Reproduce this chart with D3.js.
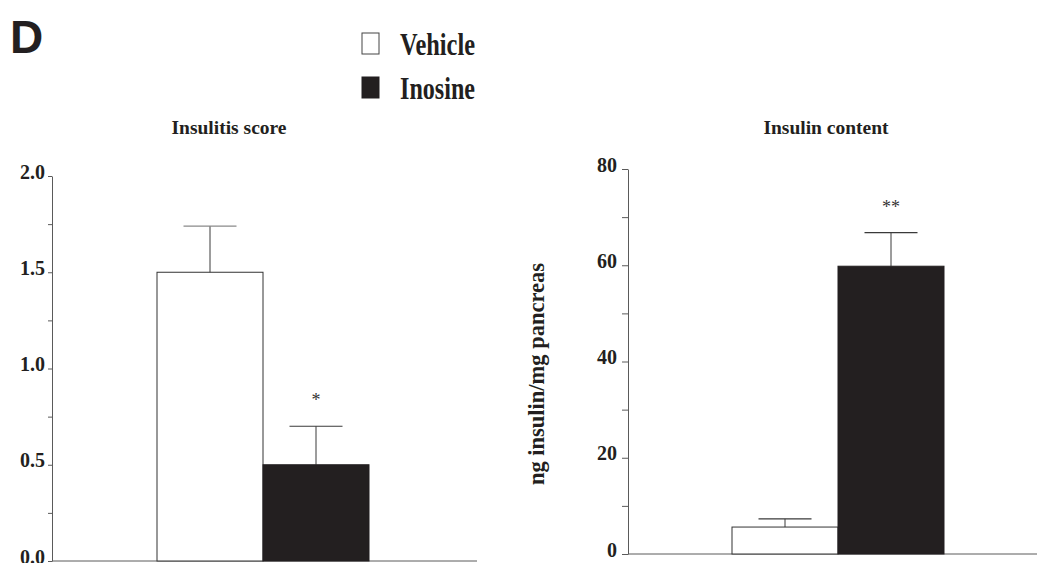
<!DOCTYPE html>
<html>
<head>
<meta charset="utf-8">
<script src="https://cdn.jsdelivr.net/npm/d3@7"></script>
<style>
  body { margin: 0; background: #fff; }
  svg { display: block; }
  .serif { font-family: "Liberation Serif", "Times New Roman", serif; font-weight: bold; fill: #231f20; }
  .axis path, .axis line { stroke: #5a5a5a; }
  .axis text { font-family: "Liberation Serif", "Times New Roman", serif; font-weight: bold; fill: #231f20; }
</style>
</head>
<body>
<svg id="chart" width="1037" height="563"></svg>
<script>
// data
var groups = ['Vehicle', 'Inosine'];
var insulitisMean = [1.5, 0.5];
var insulitisErr = [0.24, 0.2];
var insulitisMarks = ['', '*'];
var insulinMean = [5.6, 59.8];
var insulinErr = [1.7, 7.0];
var insulinMarks = ['', '**'];
var insulitisTicks = [0, 0.5, 1.0, 1.5, 2.0];
var insulitisMinor = [0.25, 0.75, 1.25, 1.75];
var insulinTicks = [0, 20, 40, 60, 80];
var insulinMinor = [10, 30, 50, 70];

var ink = '#231f20';
var fills = ['#fff', ink];

var svg = d3.select('#chart');

// panel letter
svg.append('text')
  .attr('x', 10).attr('y', 53)
  .style('font-family', '"Liberation Sans", Arial, sans-serif')
  .style('font-weight', 'bold')
  .style('font-size', '46px')
  .style('fill', ink)
  .text('D');

// legend
var legend = svg.append('g');
groups.forEach(function(g, i) {
  legend.append('rect')
    .attr('x', 362).attr('y', 33 + i * 44)
    .attr('width', 17).attr('height', 21)
    .attr('fill', fills[i])
    .attr('stroke', i == 0 ? '#444' : ink)
    .attr('stroke-width', 1);
  legend.append('text')
    .attr('class', 'serif')
    .attr('x', 400).attr('y', 55 + i * 44)
    .attr('textLength', 75)
    .attr('lengthAdjust', 'spacingAndGlyphs')
    .style('font-size', '32px')
    .text(g);
});

function drawPanel(opt) {
  var y = d3.scaleLinear().domain(opt.domain).range([opt.y0, opt.y1]);
  var x = d3.scaleBand().domain(groups).range(opt.barRange).padding(0);
  var g = svg.append('g');

  g.append('text')
    .attr('class', 'serif')
    .attr('x', opt.titleX).attr('y', 134)
    .attr('text-anchor', 'middle')
    .style('font-size', '19.5px')
    .text(opt.title);

  // minor ticks
  g.append('g')
    .attr('class', 'axis')
    .attr('transform', 'translate(' + opt.axisX + ',0)')
    .call(d3.axisLeft(y).tickValues(opt.minor).tickSize(opt.tick).tickFormat(''))
    .select('.domain').remove();

  var ax = g.append('g')
    .attr('class', 'axis')
    .attr('transform', 'translate(' + opt.axisX + ',0)')
    .call(d3.axisLeft(y).tickValues(opt.ticks).tickSize(opt.tick).tickSizeOuter(0)
      .tickPadding(opt.pad).tickFormat(opt.fmt));
  ax.selectAll('text').style('font-size', '20px').attr('dy', '0.1em');

  // x axis baseline
  g.append('line')
    .attr('x1', opt.axisX).attr('x2', opt.xEnd)
    .attr('y1', y(0)).attr('y2', y(0))
    .attr('stroke', '#5a5a5a');

  // error bars
  groups.forEach(function(grp, i) {
    var cx = x(grp) + x.bandwidth() / 2;
    var top = y(opt.mean[i] + opt.err[i]);
    g.append('line')
      .attr('x1', cx).attr('x2', cx)
      .attr('y1', y(opt.mean[i]) + (i == 0 ? 2 : 0)).attr('y2', top)
      .attr('stroke', '#3a3a3a');
    g.append('line')
      .attr('x1', cx - x.bandwidth() / 4).attr('x2', cx + x.bandwidth() / 4)
      .attr('y1', top).attr('y2', top)
      .attr('stroke', opt.capColor[i]).attr('stroke-width', 1.2);
  });

  g.selectAll('rect.bar')
    .data(groups)
    .enter().append('rect')
    .attr('class', 'bar')
    .attr('x', function(d) { return x(d); })
    .attr('width', x.bandwidth())
    .attr('y', function(d, i) { return y(opt.mean[i]); })
    .attr('height', function(d, i) { return y(0) - y(opt.mean[i]); })
    .attr('fill', function(d, i) { return fills[i]; })
    .attr('stroke', function(d, i) { return i == 0 ? '#333' : ink; })
    .attr('stroke-width', 1);

  groups.forEach(function(grp, i) {
    if (!opt.marks[i]) return;
    g.append('text')
      .attr('x', x(grp) + x.bandwidth() / 2)
      .attr('y', y(opt.mean[i] + opt.err[i]) - 20)
      .attr('text-anchor', 'middle')
      .style('font-family', '"Liberation Serif", serif')
      .style('font-size', '18px')
      .style('fill', '#333')
      .text(opt.marks[i]);
  });
  return y;
}

drawPanel({
  title: 'Insulitis score', titleX: 229,
  domain: [0, 2], y0: 561, y1: 176,
  axisX: 52, xEnd: 477, barRange: [157, 369],
  ticks: insulitisTicks, minor: insulitisMinor, fmt: d3.format('.1f'),
  tick: 4, pad: 3,
  mean: insulitisMean, err: insulitisErr, marks: insulitisMarks,
  capColor: ['#8a8a8a', '#3a3a3a']
});

drawPanel({
  title: 'Insulin content', titleX: 826,
  domain: [0, 80], y0: 554, y1: 169,
  axisX: 628, xEnd: 1037, barRange: [732, 944],
  ticks: insulinTicks, minor: insulinMinor, fmt: d3.format('d'),
  tick: 6, pad: 5,
  mean: insulinMean, err: insulinErr, marks: insulinMarks,
  capColor: ['#3a3a3a', '#3a3a3a']
});

// y label, right panel
svg.append('text')
  .attr('class', 'serif')
  .attr('transform', 'translate(544,374) rotate(-90)')
  .attr('text-anchor', 'middle')
  .style('font-size', '22.5px')
  .text('ng insulin/mg pancreas');
</script>
</body>
</html>
